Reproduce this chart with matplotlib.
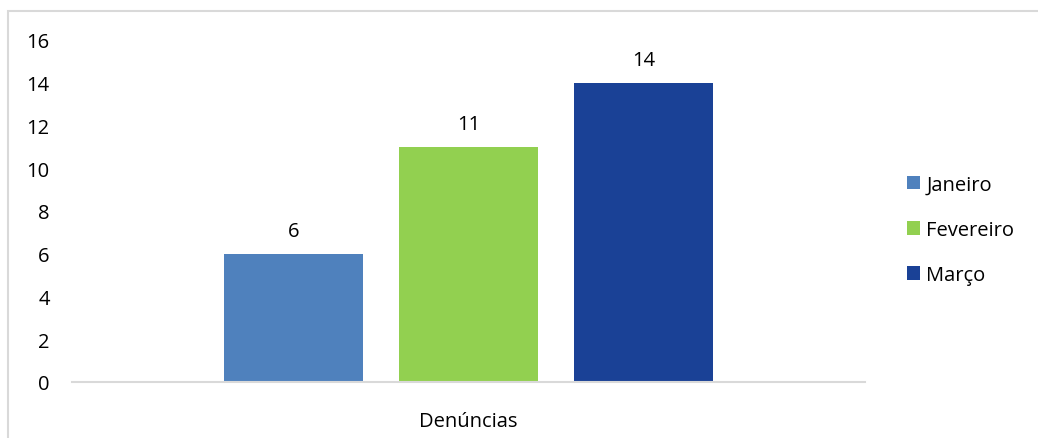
import matplotlib
matplotlib.use("Agg")
import matplotlib.pyplot as plt
from matplotlib.patches import Rectangle, Patch

categories = ["Denúncias"]
series_names = ["Janeiro", "Fevereiro", "Março"]
series_values = [6, 11, 14]
colors = ["#4F81BD", "#92D050", "#1A4196"]
yticks = [0, 2, 4, 6, 8, 10, 12, 14, 16]

plt.rcParams['font.family'] = ['Open Sans', 'DejaVu Sans']
FS = 14.5

W, H = 1038, 439
fig = plt.figure(figsize=(W/100, H/100), dpi=100)
fig.patch.set_facecolor("white")
fig.patches.append(Rectangle((8/W, -0.1), 1.2, (H-12)/H + 0.1, transform=fig.transFigure,
                             fill=False, edgecolor="#D9D9D9", linewidth=1.5))

ax = fig.add_axes([72/W, 56/H, (865-72)/W, 342/H])
offsets = [-0.2207, 0.0, 0.2207]
width = 0.1753
for name, v, c, off in zip(series_names, series_values, colors, offsets):
    ax.bar(0 + off, v, width=width, color=c, label=name, zorder=3)
    ax.annotate(str(v), (0 + off, v), xytext=(0, 9.5), textcoords="offset points",
                ha="center", va="bottom", fontsize=FS, color="#000000")

ax.set_xlim(-0.5, 0.5)
ax.set_ylim(0, 16)
ax.set_yticks(yticks)
ax.set_yticklabels([str(t) for t in yticks], fontsize=FS)
ax.set_xticks([0])
ax.set_xticklabels(categories, fontsize=FS)
ax.tick_params(axis="both", length=0)
ax.tick_params(axis="x", pad=21)
ax.tick_params(axis="y", pad=16)
for s in ["top", "right", "left"]:
    ax.spines[s].set_visible(False)
ax.spines["bottom"].set_color("#D9D9D9")
ax.spines["bottom"].set_linewidth(1.5)
ax.spines["bottom"].set_zorder(4)

handles = [Patch(facecolor=c, label=n) for n, c in zip(series_names, colors)]
fig.legend(handles=handles, loc="center left", bbox_to_anchor=(889/W, 1 - 231/H),
           frameon=False, fontsize=FS, handlelength=0.65, handleheight=0.65,
           handletextpad=0.3, labelspacing=1.25)

fig.savefig("out.png", dpi=100)
